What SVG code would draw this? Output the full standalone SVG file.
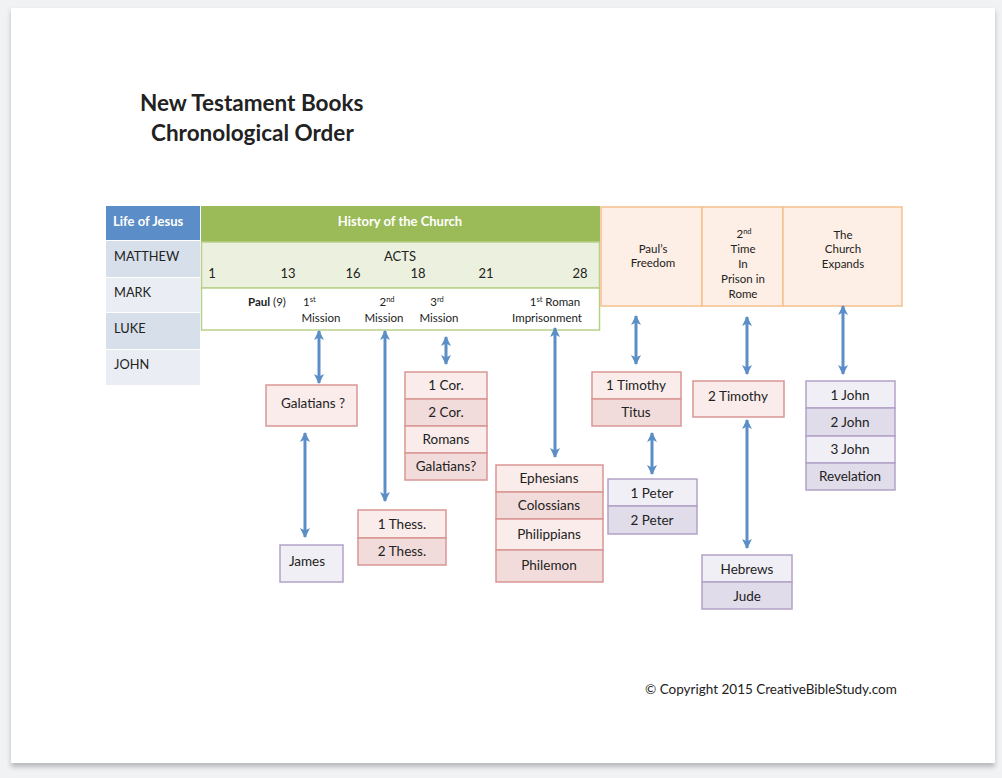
<svg xmlns="http://www.w3.org/2000/svg" width="1002" height="778" viewBox="0 0 1002 778">
<defs>
<style>
text{font-family:Lato,"Liberation Sans",sans-serif;fill:#222}
.t{font-size:13.5px;text-anchor:middle}
.n{font-size:13px;text-anchor:middle}
.s{font-size:11.5px;text-anchor:middle}
.l{font-size:12.8px}
.w{fill:#fff;font-weight:bold;font-size:13px}
.rl{fill:#f9ecea;stroke:#d99694;stroke-width:1.5}
.rd{fill:#f2dcdb;stroke:#d99694;stroke-width:1.5}
.pl{fill:#f1eff6;stroke:#b3a2c7;stroke-width:1.5}
.pd{fill:#e1dcea;stroke:#b3a2c7;stroke-width:1.5}
.or{fill:#fdefe5;stroke:#f7c08e;stroke-width:1.5}
.ar{stroke:#5b8ec6;stroke-width:3;fill:none;marker-start:url(#ah);marker-end:url(#ah)}
</style>
<marker id="ah" viewBox="0 0 10 10" refX="9" refY="5" markerWidth="10" markerHeight="11" markerUnits="userSpaceOnUse" orient="auto-start-reverse">
<path d="M0,0 L10,5 L0,10 L2.5,5 z" fill="#5b8ec6"/>
</marker>
<filter id="sh" x="-5%" y="-5%" width="110%" height="110%"><feGaussianBlur stdDeviation="2.5"/></filter>
</defs>
<rect width="1002" height="778" fill="#f1f2f4"/>
<rect x="11" y="11" width="984" height="756" fill="#b8b9bc" filter="url(#sh)"/>
<rect x="11" y="8" width="984" height="755" fill="#fff"/>

<g id="title">
<text x="140" y="111" style="font-size:22.5px;font-weight:bold" fill="#111">New Testament Books</text>
<text x="151" y="141" style="font-size:22.5px;font-weight:bold" fill="#111">Chronological Order</text>
</g>

<g id="life-of-jesus">
<rect x="106" y="206" width="94" height="34" fill="#5b8ec8"/>
<text x="113" y="226" class="w">Life of Jesus</text>
<rect x="106" y="241" width="94" height="36" fill="#d6dfea"/>
<text x="114" y="261" class="l">MATTHEW</text>
<rect x="106" y="278" width="94" height="34" fill="#eaeef4"/>
<text x="114" y="297" class="l">MARK</text>
<rect x="106" y="313" width="94" height="36" fill="#d6dfea"/>
<text x="114" y="333" class="l">LUKE</text>
<rect x="106" y="350" width="94" height="35" fill="#eaeef4"/>
<text x="114" y="369" class="l">JOHN</text>
</g>

<g id="history-of-church">
<rect x="201" y="206" width="399" height="36" fill="#9bbb59"/>
<text x="400" y="226" class="w" text-anchor="middle">History of the Church</text>
<rect x="201.5" y="242" width="398" height="46" fill="#ebf1de" stroke="#b9d08a" stroke-width="1.5"/>
<text x="400" y="261" class="n">ACTS</text>
<text x="212" y="278" class="n">1</text>
<text x="288" y="278" class="n">13</text>
<text x="353" y="278" class="n">16</text>
<text x="418" y="278" class="n">18</text>
<text x="486" y="278" class="n">21</text>
<text x="580" y="278" class="n">28</text>
<rect x="201.5" y="288" width="398" height="42" fill="#fff" stroke="#b9d08a" stroke-width="1.5"/>
<text x="248" y="306" style="font-size:11.5px"><tspan font-weight="bold">Paul</tspan> (9)</text>
<text x="303" y="306" style="font-size:11.5px">1<tspan font-size="7.5" dy="-4">st</tspan></text>
<text x="321" y="322" class="s">Mission</text>
<text x="387" y="306" class="s">2<tspan font-size="7.5" dy="-4">nd</tspan></text>
<text x="384" y="322" class="s">Mission</text>
<text x="437" y="306" class="s">3<tspan font-size="7.5" dy="-4">rd</tspan></text>
<text x="439" y="322" class="s">Mission</text>
<text x="555" y="306" class="s">1<tspan font-size="7.5" dy="-4">st</tspan><tspan dy="4"> Roman</tspan></text>
<text x="547" y="322" class="s">Imprisonment</text>
</g>

<g id="pauls-freedom">
<rect x="601" y="207" width="101" height="99" class="or"/>
<text x="653" y="253" class="s">Paul’s</text>
<text x="653" y="267" class="s">Freedom</text>
</g>
<g id="second-prison">
<rect x="702" y="207" width="81" height="99" class="or"/>
<text x="744" y="238" class="s">2<tspan font-size="7.5" dy="-4">nd</tspan></text>
<text x="743" y="253" class="s">Time</text>
<text x="743" y="268" class="s">In</text>
<text x="743" y="283" class="s">Prison in</text>
<text x="743" y="298" class="s">Rome</text>
</g>
<g id="church-expands">
<rect x="783" y="207" width="119" height="99" class="or"/>
<text x="843" y="239" class="s">The</text>
<text x="843" y="253" class="s">Church</text>
<text x="843" y="268" class="s">Expands</text>
</g>

<g id="galatians">
<rect x="266" y="385" width="91" height="41" class="rl"/>
<text x="313" y="408" class="t">Galatians ?</text>
</g>
<g id="james">
<rect x="280" y="545" width="63" height="37" class="pl"/>
<text x="307" y="566" class="t">James</text>
</g>
<g id="corinthians-romans">
<rect x="405" y="372" width="82" height="27" class="rl"/>
<text x="446" y="390" class="t">1 Cor.</text>
<rect x="405" y="399" width="82" height="27" class="rd"/>
<text x="446" y="417" class="t">2 Cor.</text>
<rect x="405" y="426" width="82" height="27" class="rl"/>
<text x="446" y="444" class="t">Romans</text>
<rect x="405" y="453" width="82" height="27" class="rd"/>
<text x="446" y="471" class="t">Galatians?</text>
</g>
<g id="thessalonians">
<rect x="358" y="510" width="88" height="28" class="rl"/>
<text x="402" y="529" class="t">1 Thess.</text>
<rect x="358" y="538" width="88" height="27" class="rd"/>
<text x="402" y="556" class="t">2 Thess.</text>
</g>
<g id="prison-epistles">
<rect x="496" y="465" width="107" height="27" class="rl"/>
<text x="549" y="483" class="t">Ephesians</text>
<rect x="496" y="492" width="107" height="27" class="rd"/>
<text x="549" y="510" class="t">Colossians</text>
<rect x="496" y="519" width="107" height="31" class="rl"/>
<text x="549" y="539" class="t">Philippians</text>
<rect x="496" y="550" width="107" height="32" class="rd"/>
<text x="549" y="570" class="t">Philemon</text>
</g>
<g id="timothy-titus">
<rect x="592" y="372" width="89" height="27" class="rl"/>
<text x="636" y="390" class="t">1 Timothy</text>
<rect x="592" y="399" width="89" height="27" class="rd"/>
<text x="636" y="417" class="t">Titus</text>
</g>
<g id="peter">
<rect x="608" y="479" width="89" height="27" class="pl"/>
<text x="652" y="498" class="t">1 Peter</text>
<rect x="608" y="506" width="89" height="28" class="pd"/>
<text x="652" y="525" class="t">2 Peter</text>
</g>
<g id="second-timothy">
<rect x="693" y="381" width="91" height="36" class="rl"/>
<text x="738" y="401" class="t">2 Timothy</text>
</g>
<g id="hebrews-jude">
<rect x="702" y="555" width="90" height="27" class="pl"/>
<text x="747" y="574" class="t">Hebrews</text>
<rect x="702" y="582" width="90" height="27" class="pd"/>
<text x="747" y="601" class="t">Jude</text>
</g>
<g id="john-revelation">
<rect x="806" y="381" width="89" height="27" class="pl"/>
<text x="850" y="400" class="t">1 John</text>
<rect x="806" y="408" width="89" height="28" class="pd"/>
<text x="850" y="427" class="t">2 John</text>
<rect x="806" y="436" width="89" height="27" class="pl"/>
<text x="850" y="454" class="t">3 John</text>
<rect x="806" y="463" width="89" height="27" class="pd"/>
<text x="850" y="481" class="t">Revelation</text>
</g>

<g id="connectors">
<line x1="319" y1="331" x2="319" y2="383" class="ar"/>
<line x1="385" y1="331" x2="385" y2="501" class="ar"/>
<line x1="446" y1="337" x2="446" y2="364" class="ar"/>
<line x1="555" y1="328" x2="555" y2="457" class="ar"/>
<line x1="636" y1="316" x2="636" y2="364" class="ar"/>
<line x1="652" y1="433" x2="652" y2="474" class="ar"/>
<line x1="747" y1="317" x2="747" y2="374" class="ar"/>
<line x1="843" y1="306" x2="843" y2="374" class="ar"/>
<line x1="747" y1="420" x2="747" y2="548" class="ar"/>
<line x1="305" y1="433" x2="305" y2="537" class="ar"/>
</g>

<g id="copyright">
<text x="645" y="694" style="font-size:13.5px" fill="#222">© Copyright 2015 CreativeBibleStudy.com</text>
</g>
</svg>
